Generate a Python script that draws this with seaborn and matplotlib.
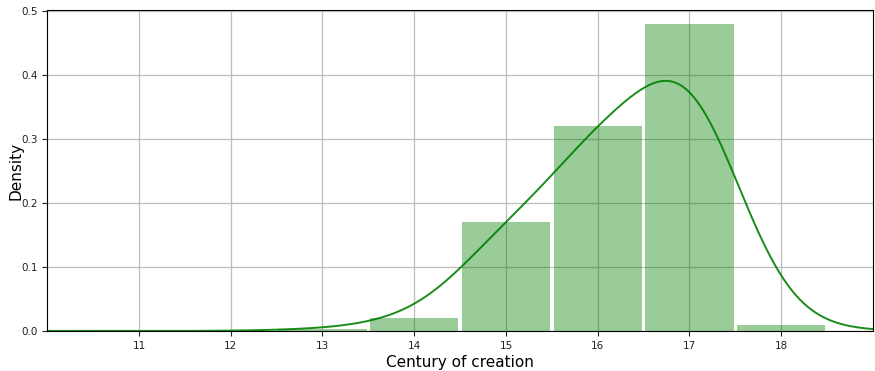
import numpy as np
import matplotlib
matplotlib.use("Agg")
import matplotlib.pyplot as plt
import seaborn as sns

# Share of works per century of creation (density per century bin)
centuries = [13, 14, 15, 16, 17, 18]
density = [0.003, 0.02, 0.17, 0.32, 0.48, 0.01]
x_ticks = [11, 12, 13, 14, 15, 16, 17, 18]
y_ticks = [0.0, 0.1, 0.2, 0.3, 0.4, 0.5]

fig = plt.figure(figsize=(8.75, 3.71), dpi=100)
ax = fig.add_axes([0.054, 0.108, 0.9437, 0.865])
ax.set_axisbelow(True)
ax.grid(True, color="#bdbdbd", linewidth=0.9)

sns.histplot(x=centuries, weights=density, discrete=True, shrink=0.96,
             stat="count", color="green", alpha=0.4, linewidth=0, ax=ax)

# Smoothed density with a kernel width of about 0.6 century
w = np.asarray(density) / np.sum(density)
std = np.sqrt(np.cov(centuries, aweights=w))
sns.kdeplot(x=centuries, weights=density, bw_method=0.6 / std, cut=10,
            gridsize=600, color="green", linewidth=1.4, alpha=0.9, ax=ax)

ax.set_xlim(10, 19)
ax.set_ylim(0, 0.502)
ax.set_xticks(x_ticks)
ax.set_yticks(y_ticks)
ax.tick_params(labelsize=7.5, colors="#222222")
ax.set_xlabel("Century of creation", fontsize=11, labelpad=3)
ax.set_ylabel("Density", fontsize=11, labelpad=-1.5)
for s in ax.spines.values():
    s.set_color("black")
    s.set_linewidth(0.8)

fig.savefig("out.png", dpi=100)
